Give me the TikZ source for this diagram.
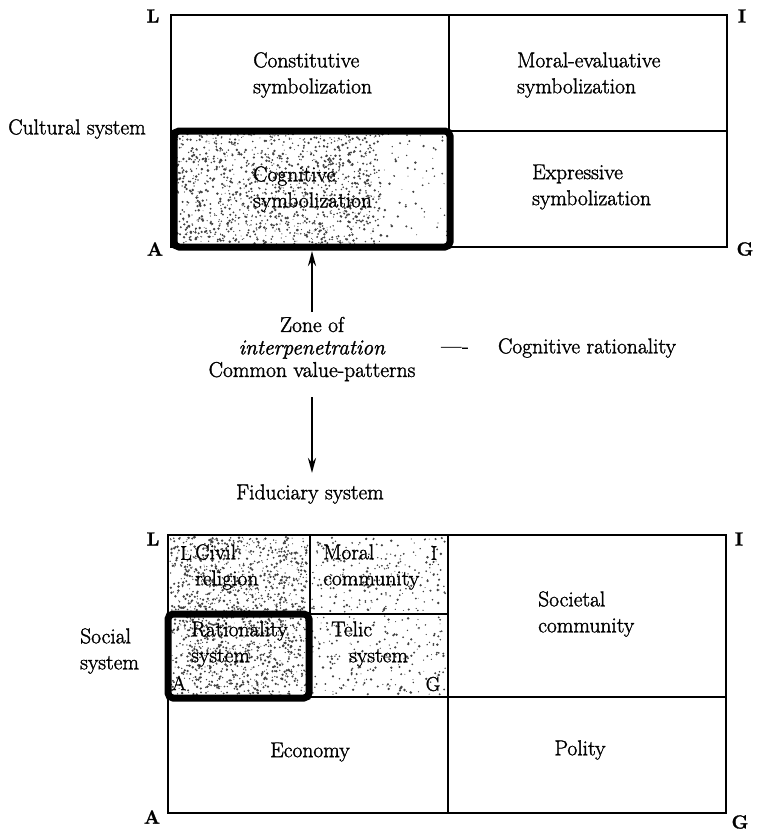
\documentclass[tikz,border=0pt]{standalone}
\usepackage{fontspec}
\setmainfont{Latin Modern Roman}[FakeBold=1.5]
\usetikzlibrary{arrows.meta}
\newcommand\mystipple[5]{%
  \foreach \k in {1,...,#5}{%
    \pgfmathsetmacro\sx{#1+#3*rnd}%
    \pgfmathsetmacro\sy{#2+#4*rnd}%
    \pgfmathsetmacro\sr{0.45+0.95*rnd}%
    \fill[stip] (\sx,\sy) circle (\sr pt);%
  }}
\begin{document}
\begin{tikzpicture}[x=1pt,y=-1pt,
  grid/.style={line width=1.7pt, line cap=rect},
  thickbox/.style={line width=7pt, rounded corners=5pt},
  txt/.style={font=\fontsize{21.5}{26}\selectfont, inner sep=0pt, align=left},
  ctxt/.style={font=\fontsize{21.5}{22.5}\selectfont, inner sep=0pt, align=center},
  corner/.style={font=\bfseries\fontsize{19}{22}\selectfont, inner sep=0pt},
  icorner/.style={font=\fontsize{20}{22}\selectfont, inner sep=0pt},
  stip/.style={fill=black!75},
  arr/.style={line width=2.6pt, -{Stealth[length=15pt,width=8pt]}}]
\useasboundingbox (0,0) rectangle (758,831);
\pgfmathsetseed{4711}
% ---------- stipple ----------
\mystipple{176}{134}{205}{110}{1150}
\mystipple{176}{134}{272}{110}{200}
\mystipple{170}{537}{138}{75}{720}
\mystipple{171}{617}{136}{78}{720}
\mystipple{312}{537}{134}{75}{240}
\mystipple{312}{616}{134}{79}{220}
% ---------- cultural system grid ----------
\draw[grid] (171,15) rectangle (727,247);
\draw[grid] (449,15) -- (449,247);
\draw[grid] (171,131) -- (727,131);
\draw[thickbox] (174,131) rectangle (450,247);
\node[corner] (cL) at (153,16) {L};
\node[corner] (cI) at (742,16) {I};
\node[corner] (cA) at (155,249) {A};
\node[corner] (cG) at (745,249) {G};
\node[txt, anchor=west] (constit) at (253,75) {Constitutive\\symbolization};
\node[txt, anchor=west] (moral) at (517,75) {Moral-evaluative\\symbolization};
\node[txt, anchor=west] (cogsym) at (253,189) {Cognitive\\symbolization};
\node[txt, anchor=west] (expr) at (532,187) {Expressive\\symbolization};
\node[txt] (cultural) at (77,129) {Cultural system};
% ---------- middle ----------
\node[ctxt] (zone) at (312,349) {Zone of\\\textit{interpenetration}\\Common value-patterns};
\node[txt] (dash) at (455,350) {---\kern1pt-};
\node[txt] (cograt) at (587,348) {Cognitive rationality};
\node[txt] (fid) at (310,494) {Fiduciary system};
\coordinate (upstart) at (312,312);
\coordinate (cogbot) at (312,251);
\coordinate (downstart) at (312,397);
\coordinate (fidtop) at (312,473);
\draw[arr] (upstart) -- (cogbot);
\draw[arr] (downstart) -- (fidtop);
% ---------- social system grid ----------
\draw[grid] (168,535) rectangle (726,813);
\draw[grid] (448,535) -- (448,813);
\draw[grid] (168,697) -- (726,697);
\draw[grid] (310,535) -- (310,697);
\draw[grid] (168,614) -- (448,614);
\draw[thickbox] (168,614) rectangle (309,698);
\node[corner] (sL) at (153,539) {L};
\node[corner] (sI) at (739,539) {I};
\node[corner] (sA) at (152,817) {A};
\node[corner] (sG) at (740,822) {G};
\node[icorner] (iL) at (186,553) {L};
\node[icorner] (iI) at (434,553) {I};
\node[icorner] (iA) at (179,683) {A};
\node[icorner] (iG) at (433,684) {G};
\node[txt, anchor=west] (civil) at (195,567) {Civil\\religion};
\node[txt, anchor=west] (moralc) at (323,567) {Moral\\community};
\node[txt, anchor=west] (ratio) at (191,644) {Rationality\\system};
\node[txt, anchor=west] (telic) at (331,644) {Telic\\\hspace*{18pt}system};
\node[txt, anchor=west] (societal) at (538,614) {Societal\\community};
\node[txt, anchor=west] (social) at (80,651) {Social\\system};
\node[txt] (economy) at (310,752) {Economy};
\node[txt] (polity) at (580,750) {Polity};
\end{tikzpicture}
\end{document}
